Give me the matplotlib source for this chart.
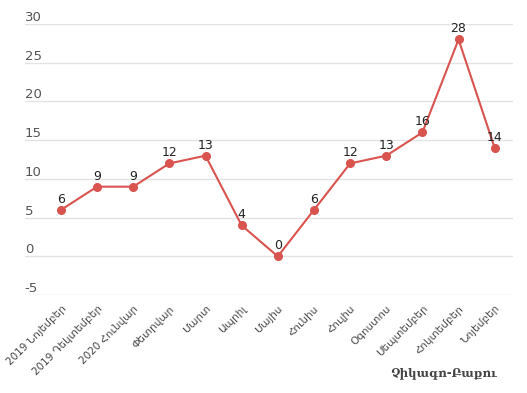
import matplotlib
matplotlib.use("Agg")
import matplotlib.pyplot as plt

months = [
    "2019 Նոյեմբեր", "2019 Դեկտեմբեր", "2020 Հունվար", "Փետրվար", "Մարտ",
    "Ապրիլ", "Մայիս", "Հունիս", "Հուլիս", "Օգոստոս", "Սեպտեմբեր",
    "Հոկտեմբեր", "Նոյեմբեր",
]
values = [6, 9, 9, 12, 13, 4, 0, 6, 12, 13, 16, 28, 14]
yticks = [-5, 0, 5, 10, 15, 20, 25, 30]
caption = "Չիկագո-Բաքու"

plt.rcParams["font.family"] = ["DejaVu Sans"]
plt.rcParams["axes.unicode_minus"] = False

fig = plt.figure(figsize=(5.27, 3.93), dpi=100)
ax = fig.add_axes([0.047, 0.249, 0.926, 0.69])

x = list(range(len(values)))
ax.plot(x, values, color="#d9534f", lw=1.5, marker="o", ms=5.5, zorder=3)

for xi, v in zip(x, values):
    ax.annotate(str(v), (xi, v), xytext=(0, 3), textcoords="offset points",
                ha="center", va="bottom", fontsize=9, color="#222222")

ax.set_xlim(-1, len(values) - 0.5)
ax.set_ylim(-5, 30)
ax.set_yticks(yticks)
ax.grid(axis="y", color="#e3e3e3", lw=1)
ax.set_axisbelow(True)
for s in ax.spines.values():
    s.set_visible(False)

ax.tick_params(axis="y", length=0, pad=0, labelsize=9.5, labelcolor="#555555")
for lab in ax.get_yticklabels():
    lab.set_ha("left")
    lab.set_va("bottom")

ax.set_xticks(x)
ax.set_xticklabels(months, rotation=45, ha="right", rotation_mode="anchor",
                   fontsize=7.5, color="#444444")
ax.tick_params(axis="x", length=0, pad=6)

fig.text(0.943, 0.035, caption, ha="right", va="bottom", fontsize=8.5,
         family="DejaVu Serif", fontweight="bold", color="#444444")

fig.savefig("out.png", dpi=100)
